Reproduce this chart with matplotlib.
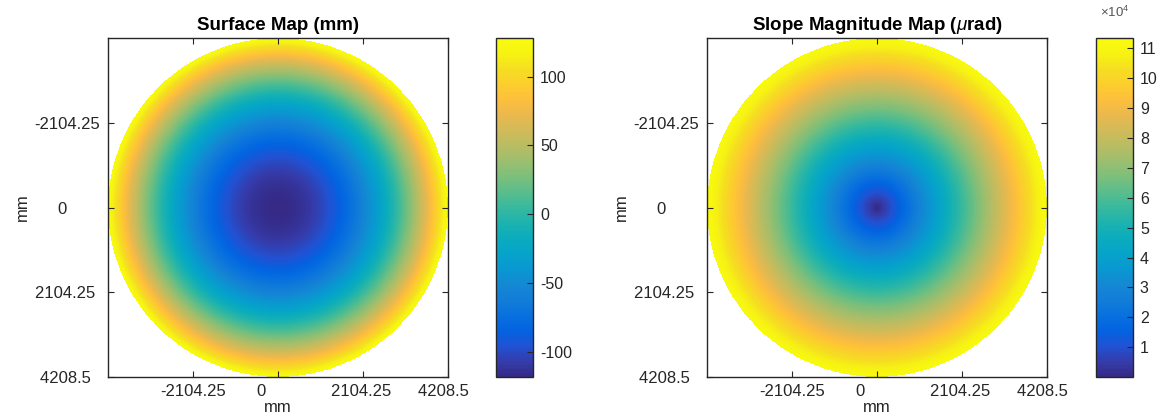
import numpy as np
import matplotlib
matplotlib.use("Agg")
import matplotlib.pyplot as plt
from matplotlib.colors import LinearSegmentedColormap

plt.rcParams['font.family'] = ['Liberation Sans', 'DejaVu Sans']
plt.rcParams['mathtext.fontset'] = 'custom'
plt.rcParams['mathtext.rm'] = 'Liberation Sans'
plt.rcParams['mathtext.it'] = 'Liberation Sans:italic'
plt.rcParams['mathtext.bf'] = 'Liberation Sans:bold'
plt.rcParams['axes.unicode_minus'] = False

# aperture (mm) and the readings taken off the two maps
radius = 4208.5
tick_pos = [-2104.25, 0, 2104.25, 4208.5]
# matlab char-array labels, left justified and padded
tick_txt = ['-2104.25', '0       ', '2104.25 ', '4208.5  ']

surf_center = -118.0    # mm, bottom of the bowl
surf_edge = 128.0       # mm, at the rim
slope_edge = 11.35e4    # urad, at the rim

surf_ticks = [-100, -50, 0, 50, 100]
slope_ticks = [1e4, 2e4, 3e4, 4e4, 5e4, 6e4, 7e4, 8e4, 9e4, 10e4, 11e4]
slope_ticklabels = ['1', '2', '3', '4', '5', '6', '7', '8', '9', '10', '11']

# parula (matlab default), every few entries of the 64 table
parula_pts = [
    (0.2081, 0.1663, 0.5292), (0.2081, 0.2386, 0.6771), (0.1253, 0.3242, 0.8303),
    (0.0117, 0.3875, 0.8820), (0.0329, 0.4430, 0.8720), (0.0723, 0.4887, 0.8467),
    (0.0749, 0.5375, 0.8263), (0.0343, 0.5966, 0.8199), (0.0231, 0.6418, 0.7913),
    (0.0384, 0.6743, 0.7436), (0.1133, 0.7015, 0.6859), (0.2178, 0.7250, 0.6193),
    (0.3482, 0.7424, 0.5473), (0.4871, 0.7491, 0.4840), (0.6099, 0.7473, 0.4337),
    (0.7184, 0.7411, 0.3905), (0.8185, 0.7327, 0.3498), (0.9139, 0.7258, 0.3063),
    (0.9938, 0.7455, 0.2403), (0.9880, 0.8066, 0.1794), (0.9626, 0.8705, 0.1309),
    (0.9661, 0.9514, 0.0755), (0.9763, 0.9831, 0.0538),
]
parula = LinearSegmentedColormap.from_list('parula', parula_pts, N=256)
parula.set_bad('white')

n = 1000
x = np.linspace(-radius, radius, n)
X, Y = np.meshgrid(x, x)
rho = np.hypot(X, Y) / radius
outside = rho > 1.0
surface = np.ma.masked_where(outside, surf_center + (surf_edge - surf_center) * rho ** 2)
slope = np.ma.masked_where(outside, slope_edge * rho)

txt = '#262626'
W, H = 1163, 417
fig = plt.figure(figsize=(W / 100, H / 100), dpi=100)


def fx(px):
    return px / W


def fy(px):
    return 1 - px / H


panels = [
    (108, 496, surface, surf_center, surf_edge, 'Surface Map (mm)'),
    (707, 1096, slope, 0, slope_edge, r'Slope Magnitude Map ($\mu$rad)'),
]
axes_list = []
for left, cbleft, data, lo, hi, title in panels:
    ax = fig.add_axes([fx(left), fy(377), 340 / W, 339 / H])
    im = ax.imshow(data, cmap=parula, vmin=lo, vmax=hi, aspect='auto',
                   extent=[-radius, radius, radius, -radius], interpolation='nearest')
    ax.set_xlim(-radius, radius)
    ax.set_ylim(radius, -radius)
    ax.set_xticks(tick_pos)
    ax.set_xticklabels(tick_txt)
    ax.set_yticks(tick_pos)
    ax.set_yticklabels(tick_txt)
    ax.tick_params(direction='in', length=4, width=0.8, top=True, right=True,
                   labelsize=12, colors=txt, pad=5)
    ax.tick_params(axis='y', pad=6)
    for s in ax.spines.values():
        s.set_color(txt)
        s.set_linewidth(1.0)
    ax.set_xlabel('mm', fontsize=12, color=txt, labelpad=1)
    ax.set_ylabel('mm', fontsize=12, color=txt, labelpad=3)
    ax.set_title(title, fontsize=13.5, fontweight='bold', color='black', pad=6)

    cax = fig.add_axes([fx(cbleft), fy(377), 37 / W, 339 / H])
    cb = fig.colorbar(im, cax=cax)
    cb.outline.set_edgecolor(txt)
    cb.outline.set_linewidth(1.0)
    cax.tick_params(direction='in', length=4, width=0.8, labelsize=11.5,
                    colors=txt, pad=5)
    axes_list.append((ax, cb))

axes_list[0][1].set_ticks(surf_ticks)
axes_list[1][1].set_ticks(slope_ticks)
axes_list[1][1].set_ticklabels(slope_ticklabels)
fig.text(fx(1115), fy(12), r'$\times10^4$', fontsize=9.5, color='#555555',
         ha='center', va='center')

fig.savefig('out.png', dpi=100, facecolor='white')
